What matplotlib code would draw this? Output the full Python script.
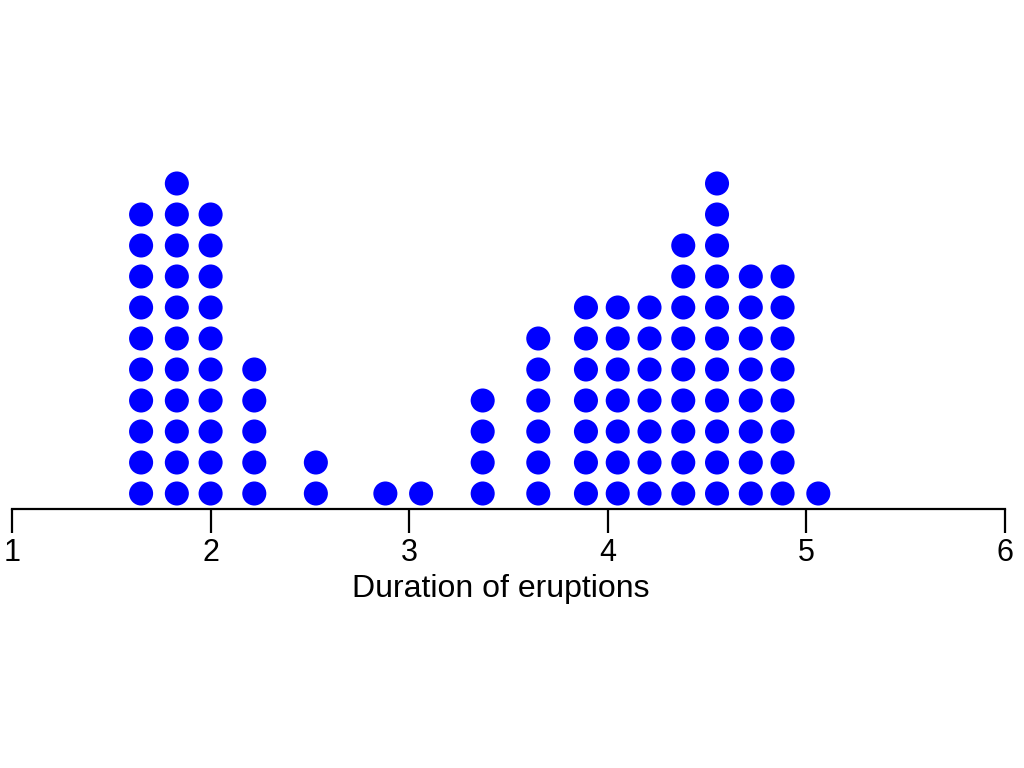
import numpy as np
import matplotlib.pyplot as plt

plt.rcParams['font.family'] = ['Liberation Sans', 'DejaVu Sans']

# bin centres (minutes) and number of eruptions stacked in each column
durations = [1.65, 1.83, 2.00, 2.22, 2.53, 2.88, 3.06, 3.37, 3.65,
             3.89, 4.05, 4.21, 4.38, 4.55, 4.72, 4.88, 5.06]
counts = [10, 11, 10, 5, 2, 1, 1, 4, 6, 7, 7, 7, 9, 11, 8, 8, 1]
ticks = [1, 2, 3, 4, 5, 6]

xs = []
ys = []
for d, c in zip(durations, counts):
    for k in range(c):
        xs.append(d)
        ys.append(0.5 + k)

fig = plt.figure(figsize=(10.24, 7.68), dpi=100)
ax = fig.add_axes([12/1024, 259/768, (1005-12)/1024, 509/768])
ax.scatter(xs, ys, s=300, color='#0000ff', edgecolors='none', clip_on=False)

ax.set_xlim(1, 6)
ax.set_ylim(0, 509/31.0)
for s in ['top', 'right', 'left']:
    ax.spines[s].set_visible(False)
ax.spines['bottom'].set_linewidth(1.6)
ax.set_yticks([])
ax.set_xticks(ticks)
ax.tick_params(axis='x', length=17, width=1.6, labelsize=22, pad=4)
ax.set_xlabel('Duration of eruptions', fontsize=23)
# label sits a bit left of centre, like the original
ax.xaxis.set_label_coords(0.4925, -65/509.0)

fig.savefig('out.png', dpi=100)
